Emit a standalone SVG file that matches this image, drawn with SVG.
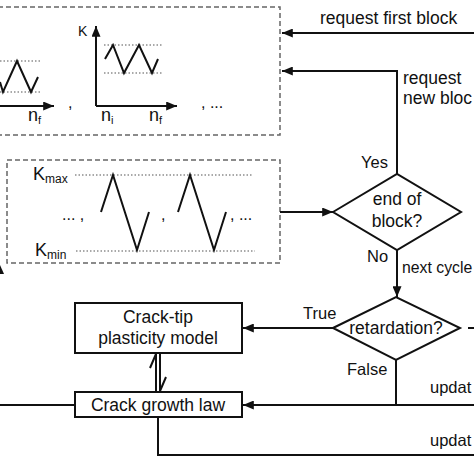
<svg xmlns="http://www.w3.org/2000/svg" width="474" height="474" viewBox="0 0 474 474">
<defs>
<marker id="ah" viewBox="0 0 12 10" refX="12" refY="5" markerWidth="12" markerHeight="9" markerUnits="userSpaceOnUse" orient="auto">
<path d="M0,0 L12,5 L0,10 Z" fill="#111"/>
</marker>
<style>
text{font-family:"Liberation Sans",Arial,sans-serif;fill:#111}
.t{font-size:17.5px}
.l{font-size:16.5px}
.c{text-anchor:middle}
.box{fill:#fff;stroke:#111;stroke-width:2}
.dash{fill:none;stroke:#666;stroke-width:1.5;stroke-dasharray:5 3}
.dot{fill:none;stroke:#555;stroke-width:1.2;stroke-dasharray:1.5 2}
.ln{fill:none;stroke:#111;stroke-width:2}
.ar{fill:none;stroke:#111;stroke-width:2;marker-end:url(#ah)}
</style>
</defs>
<rect width="474" height="474" fill="#fff"/>

<g id="block-sequence">
<rect class="dash" x="-10" y="7" width="290" height="128"/>
<line class="dot" x1="0" y1="61" x2="42" y2="61"/>
<line class="dot" x1="0" y1="92" x2="42" y2="92"/>
<polyline class="ln" points="0,82 3,92 17,61 31,92 38,77"/>
<line class="ar" x1="0" y1="106" x2="54" y2="106"/>
<text x="28" y="121" style="font-size:18px">n<tspan style="font-size:11px" dy="3">f</tspan></text>
<text x="68" y="108" style="font-size:16px">,</text>
<line class="ar" x1="96" y1="106" x2="96" y2="26"/>
<line class="ar" x1="96" y1="106" x2="177" y2="106"/>
<text x="78" y="36" style="font-size:14px">K</text>
<line class="dot" x1="104" y1="45" x2="162" y2="45"/>
<line class="dot" x1="104" y1="73" x2="162" y2="73"/>
<polyline class="ln" points="105,59 113,45 124,73 139,45 152,73 158,59"/>
<text x="101" y="121" style="font-size:18px">n<tspan style="font-size:11px" dy="3">i</tspan></text>
<text x="149" y="121" style="font-size:18px">n<tspan style="font-size:11px" dy="3">f</tspan></text>
<text x="201" y="108" style="font-size:16px">, ...</text>
</g>

<g id="cycle-sequence">
<rect class="dash" x="7" y="160" width="273" height="103"/>
<text x="33" y="180" style="font-size:18px">K<tspan style="font-size:12px" dy="3">max</tspan></text>
<text x="35" y="256" style="font-size:18px">K<tspan style="font-size:12px" dy="3">min</tspan></text>
<line class="dot" x1="75" y1="175" x2="252" y2="175"/>
<line class="dot" x1="76" y1="251" x2="255" y2="251"/>
<polyline class="ln" points="101,212 113,175 137,250 149,212"/>
<polyline class="ln" points="178,212 190,175 214,250 226,212"/>
<text x="62" y="220" style="font-size:16px">... ,</text>
<text x="161" y="220" style="font-size:16px">,</text>
<text x="230" y="220" style="font-size:16px">, ...</text>
</g>

<g id="end-of-block">
<polygon class="box" points="333,212 397,174 461,212 397,250"/>
<text class="t c" x="397" y="205">end of</text>
<text class="t c" x="397" y="227">block?</text>
</g>

<g id="retardation">
<polygon class="box" points="333,328 396,297 460,328 396,360"/>
<text class="t c" x="396" y="334">retardation?</text>
</g>

<g id="crack-tip">
<rect class="box" x="75" y="303" width="167" height="50"/>
<text class="t c" x="158" y="323">Crack-tip</text>
<text class="t c" x="158" y="344">plasticity model</text>
</g>

<g id="crack-growth">
<rect class="box" x="75" y="392" width="167" height="25"/>
<text class="t c" x="158" y="411">Crack growth law</text>
</g>

<g id="connectors">
<path class="ar" d="M474,33 H282"/>
<path class="ar" d="M397,174 V71 H282"/>
<path class="ar" d="M280,212 H333"/>
<path class="ar" d="M397,250 V297"/>
<path class="ar" d="M333,328 H243"/>
<path class="ln" d="M468,328 H474"/>
<path class="ln" d="M396,360 V405"/>
<path class="ar" d="M474,405 H243"/>
<path class="ln" d="M0,405 H75"/>
<path class="ln" d="M158,417 V455 H474"/>
<path class="ln" d="M156,392 V354 L150,368"/>
<path class="ln" d="M160,353 V391 L166,377"/>
<polygon points="-4,274 4,274 0,265" fill="#111"/>
<text class="t" x="320" y="24">request first block</text>
<text class="t" x="403" y="84">request</text>
<text class="t" x="403" y="104">new bloc</text>
<text class="l" x="361" y="168">Yes</text>
<text class="l" x="367" y="262">No</text>
<text class="l" x="402" y="273" style="font-size:15.8px">next cycle</text>
<text class="l" x="303" y="319">True</text>
<text class="l" x="347" y="375">False</text>
<text class="l" x="430" y="393">updat</text>
<text class="l" x="430" y="446">updat</text>
</g>
</svg>
